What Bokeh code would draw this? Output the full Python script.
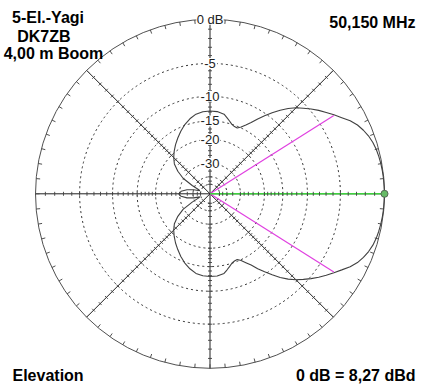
import numpy as np
from bokeh.plotting import figure
from bokeh.models import Range1d, Label
from bokeh.core.properties import value
from bokeh.embed import file_html
from bokeh.resources import INLINE

# ---------------- data ----------------
ring_db = [-5, -10, -15, -20, -30, -40, -50]
ring_label_db = [0, -5, -10, -15, -20, -30]
ring_label_txt = ["0 dB", "-5", "-10", "-15", "-20", "-30"]
tick_db = [-1, -2, -3, -4, -5, -6, -7, -8, -9, -10, -11, -12, -13, -14, -15,
           -16, -17, -18, -19, -20, -22, -24, -26, -28, -30, -35, -40, -45, -50]
axis_angles = [0, 45, 90, 135]
outer_tick_step = 5

# elevation pattern (upper half, mirrored below), angle in degrees, level in dB
pat_ang = [0, 2.5, 5, 7.5, 10, 12.5, 15, 17.5, 20, 22.5, 25, 27.5, 30, 32.5, 35,
           37.5, 40, 42.5, 45, 47.5, 50, 52.5, 55, 57.5, 60, 62.5, 65, 67.5, 70,
           72.5, 75, 77.5, 80, 85, 90, 95, 100, 105, 110, 115, 120, 125, 130,
           135, 140, 145, 150, 155, 160, 163, 166, 170, 175, 180]
pat_db = [0.0, -0.01, -0.03, -0.06, -0.10, -0.16, -0.24, -0.37, -0.57, -0.85,
          -1.20, -1.70, -2.35, -2.95, -3.55, -4.15, -4.80, -5.50, -6.20, -7.05,
          -8.05, -9.20, -10.4, -11.6, -12.9, -13.9, -14.8, -15.4, -15.3, -15.0,
          -14.4, -13.8, -13.2, -12.85, -12.8, -12.9, -13.2, -13.9, -14.8, -15.9,
          -17.1, -18.3, -19.6, -21.0, -22.7, -25.6, -29.6, -37.5, -46.0, -48.0,
          -40.0, -34.5, -30.8, -29.5]

beam_ang = 32.3      # -3 dB points
beam_db = -3.0
max_ang = 0.0
max_db = 0.0

title_lines = ["5-El.-Yagi", "DK7ZB", "4,00 m Boom"]
freq_txt = "50,150 MHz"
plane_txt = "Elevation"
ref_txt = "0 dB = 8,27 dBd"

# ---------------- layout ----------------
W, H = 425, 387
CX, CY = 209.5, 193.3   # centre in px (from left / from top)
R = 174.5               # outer radius in px
FONT = "Liberation Sans"


def rad(db):
    return 0.89 ** (abs(db) / 2.0)


p = figure(width=W, height=H, output_backend="svg", toolbar_location=None,
           x_axis_type=None, y_axis_type=None, min_border=0,
           x_range=Range1d(-CX / R, (W - CX) / R),
           y_range=Range1d(-(H - CY) / R, CY / R))
p.outline_line_color = None
p.background_fill_color = "white"
p.border_fill_color = "white"
p.grid.visible = False

# rings
p.circle(x=[0] * len(ring_db), y=[0] * len(ring_db),
         radius=[rad(d) for d in ring_db], fill_color=None,
         line_color="#303030", line_width=1, line_dash="2 3")
# outer circle
p.circle(x=[0], y=[0], radius=[1.0], fill_color=None, line_color="#505050", line_width=1)

# axis lines (full diameters)
ax_x0, ax_y0, ax_x1, ax_y1 = [], [], [], []
for a in axis_angles:
    t = np.radians(a)
    ax_x0.append(-np.cos(t)); ax_y0.append(-np.sin(t))
    ax_x1.append(np.cos(t)); ax_y1.append(np.sin(t))
p.segment(ax_x0, ax_y0, ax_x1, ax_y1, line_color="#202020", line_width=1)

# outer circle ticks (inward)
ot = np.radians(np.arange(0, 360, outer_tick_step))
tl = 4.0 / R
p.segment(np.cos(ot), np.sin(ot), (1 - tl) * np.cos(ot), (1 - tl) * np.sin(ot),
          line_color="#505050", line_width=1)

# pattern
ang_full = list(pat_ang) + [360 - a for a in reversed(pat_ang[:-1])]
db_full = list(pat_db) + list(reversed(pat_db[:-1]))
th = np.radians(ang_full)
rr = np.array([rad(d) for d in db_full])
p.line(rr * np.cos(th), rr * np.sin(th), line_color="#404040", line_width=1.1)

# beamwidth lines (magenta)
rb = rad(beam_db)
for s in (1, -1):
    tb = np.radians(s * beam_ang)
    p.line([0, rb * np.cos(tb)], [0, rb * np.sin(tb)], line_color="#e040e0", line_width=1.2)

# max direction (green)
rm = rad(max_db)
tm = np.radians(max_ang)
p.line([0, rm * np.cos(tm)], [0, rm * np.sin(tm)], line_color="#3fd23f", line_width=1.5)

# axis ticks
hl = 2.0 / R
tx0, ty0, tx1, ty1 = [], [], [], []
for a in axis_angles:
    t = np.radians(a)
    ux, uy = np.cos(t), np.sin(t)
    nx, ny = -uy, ux
    for d in tick_db:
        for s in (1, -1):
            r = s * rad(d)
            px, py = r * ux, r * uy
            tx0.append(px - hl * nx); ty0.append(py - hl * ny)
            tx1.append(px + hl * nx); ty1.append(py + hl * ny)
p.segment(tx0, ty0, tx1, ty1, line_color="#404040", line_width=0.9)

# max marker
p.scatter([rm * np.cos(tm)], [rm * np.sin(tm)], size=7, fill_color="#66bb66",
          line_color="#556655", line_width=1)

# ring labels on vertical axis, on white boxes
ly = [rad(d) for d in ring_label_db]
lw = [6.6 * len(t) + 1 for t in ring_label_txt]
p.rect(x=[0] * len(ly), y=ly, width=lw, height=[11] * len(ly),
       width_units="screen", height_units="screen",
       fill_color="white", line_color=None)
p.text(x=[0] * len(ly), y=ly, text=ring_label_txt, text_align="center",
       text_baseline="middle", text_font=value(FONT), text_font_size="13px",
       text_color="#222222")

# titles (screen units: from left / bottom)
title_cx = [47.5, 43.3, 53.0]
title_base = [370, 351, 334]
TS = "16px"
for txt, x, y in zip(title_lines, title_cx, title_base):
    p.add_layout(Label(x=x, y=y, x_units="screen", y_units="screen", text=txt,
                       text_align="center", text_baseline="alphabetic",
                       text_font=FONT, text_font_style="bold",
                       text_font_size=TS, text_color="black"))

p.add_layout(Label(x=415, y=365.5, x_units="screen", y_units="screen", text=freq_txt,
                   text_align="right", text_baseline="alphabetic", text_font=FONT,
                   text_font_style="bold", text_font_size=TS, text_color="black"))
p.add_layout(Label(x=12, y=12, x_units="screen", y_units="screen", text=plane_txt,
                   text_align="left", text_baseline="alphabetic", text_font=FONT,
                   text_font_style="bold", text_font_size=TS, text_color="black"))
p.add_layout(Label(x=415, y=12, x_units="screen", y_units="screen", text=ref_txt,
                   text_align="right", text_baseline="alphabetic", text_font=FONT,
                   text_font_style="bold", text_font_size=TS, text_color="black"))

open("out.html", "w").write(file_html(p, INLINE))
